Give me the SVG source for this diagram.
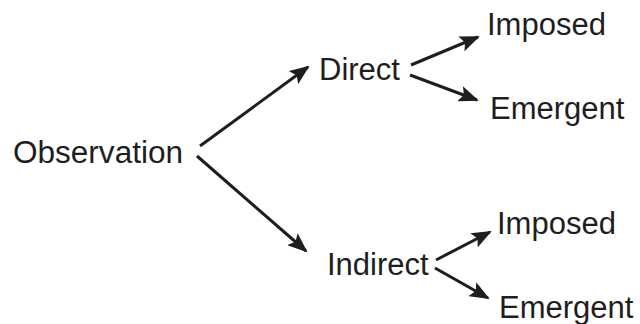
<svg xmlns="http://www.w3.org/2000/svg" width="640" height="324" viewBox="0 0 640 324">
  <style>
    .lbl { font-family: "Liberation Sans", Arial, sans-serif; font-size: 31px; fill: #1e1e1e; }
    .edge { stroke: #1e1e1e; stroke-width: 3; fill: none; marker-end: url(#head); }
  </style>
  <defs>
    <marker id="head" viewBox="0 0 20 16" refX="18" refY="8" markerWidth="20" markerHeight="16" markerUnits="userSpaceOnUse" orient="auto">
      <path d="M0,0 L20,8 L0,16 L4,8 Z" fill="#1e1e1e"/>
    </marker>
  </defs>
  <rect width="640" height="324" fill="#ffffff"/>

  <g id="connectors">
    <line class="edge" x1="200" y1="146" x2="308" y2="67"/>
    <line class="edge" x1="197" y1="156" x2="306" y2="251"/>
    <line class="edge" x1="411" y1="65" x2="478" y2="37"/>
    <line class="edge" x1="410" y1="75" x2="477" y2="100"/>
    <line class="edge" x1="436" y1="260" x2="490" y2="232"/>
    <line class="edge" x1="435" y1="268" x2="488" y2="298"/>
  </g>

  <g id="observation"><text class="lbl" x="13" y="163" textLength="170" lengthAdjust="spacingAndGlyphs">Observation</text></g>
  <g id="direct"><text class="lbl" x="319" y="80">Direct</text></g>
  <g id="direct-imposed"><text class="lbl" x="487" y="35">Imposed</text></g>
  <g id="direct-emergent"><text class="lbl" x="490" y="119">Emergent</text></g>
  <g id="indirect"><text class="lbl" x="327" y="275">Indirect</text></g>
  <g id="indirect-imposed"><text class="lbl" x="497" y="234">Imposed</text></g>
  <g id="indirect-emergent"><text class="lbl" x="499" y="318">Emergent</text></g>
</svg>
